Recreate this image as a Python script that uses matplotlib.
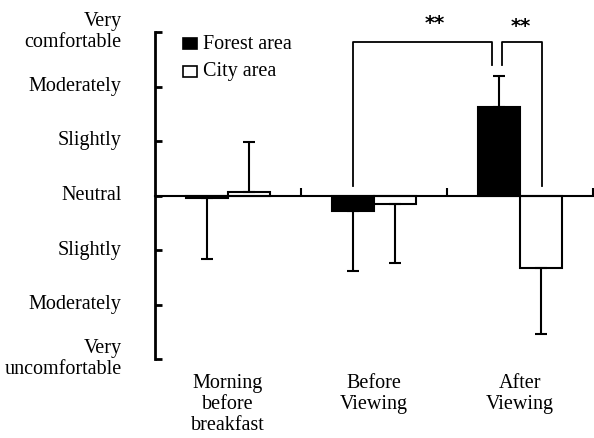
import matplotlib
matplotlib.use("Agg")
import matplotlib.pyplot as plt
from matplotlib.patches import Rectangle
import numpy as np

plt.rcParams['font.family'] = ['Liberation Serif', 'DejaVu Serif']

categories = ["Morning\nbefore\nbreakfast", "Before\nViewing", "After\nViewing"]
forest_mean = [-0.05, -0.29, 1.62]
forest_err = [1.11, 1.09, 0.57]
city_mean = [0.06, -0.165, -1.33]
city_err = [0.92, 1.075, 1.21]
ytick_vals = [3, 2, 1, 0, -1, -2, -3]
ytick_labels = ["Very\ncomfortable", "Moderately", "Slightly", "Neutral",
                "Slightly", "Moderately", "Very\nuncomfortable"]
series_labels = ["Forest area", "City area"]
sig_text = "**"

FS = 14.5

fig = plt.figure(figsize=(5.94, 4.38), dpi=100)
ax = fig.add_axes([155/594, 1-359/438, 438/594, 327/438])

x = np.arange(len(categories))
w = 0.29
off = 0.145
ax.bar(x - off, forest_mean, w, color='black', edgecolor='black', linewidth=1.5, zorder=2)
ax.bar(x + off, city_mean, w, color='white', edgecolor='black', linewidth=1.5, zorder=2)

# error bars (one-sided, away from zero)
for xs, means, errs in ((x - off, forest_mean, forest_err), (x + off, city_mean, city_err)):
    for xi, m, e in zip(xs, means, errs):
        yerr = [[0], [e]] if m > 0.02 else [[e], [0]]
        ax.errorbar([xi], [m], yerr=yerr, fmt='none', ecolor='black',
                    elinewidth=1.5, capsize=4, capthick=1.5, zorder=3)

ax.set_xlim(-0.5, 2.5)
ax.set_ylim(-3, 3)
ax.axhline(0, color='black', lw=1.5, zorder=4, clip_on=False)
ax.vlines([0.5, 1.5, 2.5], 0, 0.13, color='black', lw=1.5, zorder=4, clip_on=False)

for s in ['top', 'right', 'bottom']:
    ax.spines[s].set_visible(False)
ax.spines['left'].set_linewidth(2)

ax.set_yticks(ytick_vals)
ax.set_yticklabels(ytick_labels, fontsize=FS, ha='right', va='center', multialignment='right',
                   linespacing=1.15)
ax.tick_params(axis='y', direction='in', length=5, width=2, pad=24)
ax.set_xticks(x)
ax.set_xticklabels(categories, fontsize=FS, linespacing=1.15)
ax.tick_params(axis='x', length=0, pad=11)

# significance brackets
ax.plot([0.855, 0.855, 1.81, 1.81], [0.18, 2.81, 2.81, 2.40], color='black', lw=1.3, clip_on=False)
ax.plot([1.875, 1.875, 2.148, 2.148], [2.40, 2.81, 2.81, 0.18], color='black', lw=1.3, clip_on=False)
ax.text(1.418, 3.16, sig_text, ha='center', va='center', fontsize=14, fontweight='bold',
        family='DejaVu Sans', clip_on=False)
ax.text(2.003, 3.11, sig_text, ha='center', va='center', fontsize=14, fontweight='bold',
        family='DejaVu Sans', clip_on=False)

# legend
ax.add_patch(Rectangle((0.064, 0.948), 0.032, 0.034, transform=ax.transAxes,
                       facecolor='black', edgecolor='black', lw=1.2, clip_on=False))
ax.add_patch(Rectangle((0.064, 0.862), 0.032, 0.034, transform=ax.transAxes,
                       facecolor='white', edgecolor='black', lw=1.2, clip_on=False))
ax.text(0.1096, 0.963, series_labels[0], transform=ax.transAxes, fontsize=FS, va='center', ha='left')
ax.text(0.1096, 0.878, series_labels[1], transform=ax.transAxes, fontsize=FS, va='center', ha='left')

fig.savefig("out.png", dpi=100)
